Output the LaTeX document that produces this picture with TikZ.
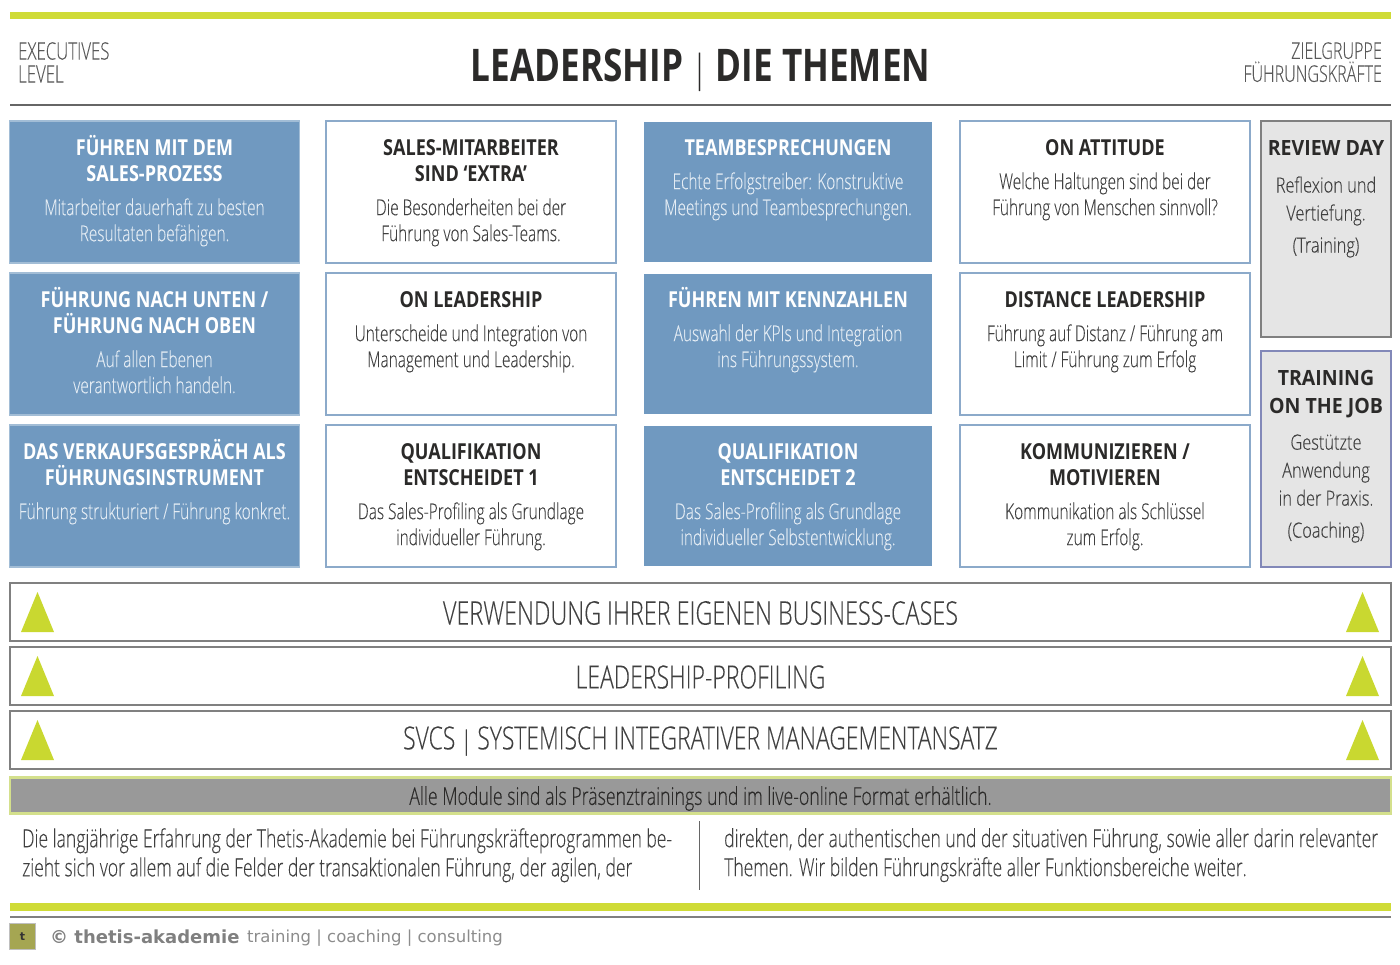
\documentclass[tikz,border=0pt]{standalone}
\usepackage{fontspec}
\newfontfamily\lightfam[FakeStretch=.70,FakeBold=.12]{Open Sans Light}
\newfontfamily\barfam[FakeStretch=.72,FakeBold=.12]{Open Sans Light}
\newfontfamily\boldfam[FakeStretch=.82]{Open Sans Bold}
\newfontfamily\titlefam[FakeStretch=.78]{Open Sans Bold}
\newfontfamily\sidefam[FakeStretch=.78,FakeBold=.12]{Open Sans Light}
\newfontfamily\sideboldfam[FakeStretch=.93]{Open Sans Bold}
\newfontfamily\footfam{DejaVu Sans}
\newfontfamily\footboldfam{DejaVu Sans Bold}
\usetikzlibrary{calc}

\definecolor{limebar}{HTML}{CFDB37}
\definecolor{limetri}{HTML}{C9D830}
\definecolor{limepale}{HTML}{D4E08C}
\definecolor{cardblue}{HTML}{7099C0}
\definecolor{edgeblue}{HTML}{8CAACA}
\definecolor{jobedge}{HTML}{8288B8}
\definecolor{paleblue}{HTML}{E4ECF4}
\definecolor{darkink}{HTML}{2B2A29}
\definecolor{softink}{HTML}{404040}
\definecolor{logoolive}{HTML}{A5A652}

\tikzset{
  bluebox/.style={fill=cardblue,draw=cardblue!65!white,line width=1.2pt,minimum width=290pt,minimum height=142pt,inner sep=0pt},
  plainblue/.style={fill=cardblue,minimum width=288pt,minimum height=140pt,inner sep=0pt},
  whitebox/.style={fill=white,draw=edgeblue,line width=1.2pt,minimum width=290pt,minimum height=142pt,inner sep=0pt},
  sidebox/.style={fill=black!10,line width=1.5pt,minimum width=130pt,minimum height=216pt,inner sep=0pt},
  bluetext/.style={anchor=north,align=center,inner sep=0pt,text=paleblue,font=\lightfam\fontsize{22}{26}\selectfont},
  darktext/.style={anchor=north,align=center,inner sep=0pt,text=softink,font=\lightfam\fontsize{22}{26}\selectfont},
  sidetext/.style={anchor=north,align=center,inner sep=0pt,text=softink,font=\sidefam\fontsize{21}{28}\selectfont},
  barbox/.style={fill=white,draw=black!50,line width=1.5pt,minimum width=1381pt,minimum height=58pt,inner sep=0pt},
  bartext/.style={inner sep=0pt,text=softink,font=\barfam\fontsize{32}{36}\selectfont},
  notetext/.style={anchor=north west,align=left,inner sep=0pt,text=softink,font=\lightfam\fontsize{25}{29}\selectfont},
  cornertext/.style={inner sep=0pt,text=black!65,font=\lightfam\fontsize{24}{23}\selectfont}
}
\def\hdw#1{{\boldfam\color{white}#1}}
\def\hdk#1{{\boldfam\color{darkink}#1}}
\def\cardnode#1#2#3#4#5#6{%
  \node[#4] (#1) at (#2,#3) {};
  \node[#5] (#1-text) at (#2,{#3-60}) {\rule{0pt}{23pt}#6};
}

\begin{document}
\begin{tikzpicture}[x=1pt,y=-1pt]
  \useasboundingbox (0,0) rectangle (1400,964);

  % head
  \fill[limebar] (10,11.5) rectangle (1391,19);
  \draw[black!60,line width=1.5pt] (10,105) -- (1391,105);
  \node[cornertext,anchor=north west,align=left] (level) at (18,42) {EXECUTIVES\\LEVEL};
  \node[cornertext,anchor=north east,align=right,font=\lightfam\fontsize{23}{23}\selectfont] (group) at (1382,42) {ZIELGRUPPE\\FÜHRUNGSKRÄFTE};
  \node[inner sep=0pt,text=darkink,font=\titlefam\fontsize{45}{50}\selectfont] (title) at (700.5,70)
    {LEADERSHIP {\lightfam\fontsize{38}{50}\selectfont|} DIE THEMEN};

  % cards
  \cardnode{prozess}{154.5}{192}{bluebox}{bluetext}{\hdw{FÜHREN MIT DEM}\\\hdw{SALES-PROZESS}\\[8pt]Mitarbeiter dauerhaft zu besten\\Resultaten befähigen.}
  \cardnode{oben}{154.5}{344}{bluebox}{bluetext}{\hdw{FÜHRUNG NACH UNTEN /}\\\hdw{FÜHRUNG NACH OBEN}\\[8pt]Auf allen Ebenen\\verantwortlich handeln.}
  \cardnode{gespraech}{154.5}{496}{bluebox}{bluetext}{\hdw{DAS VERKAUFSGESPRÄCH ALS}\\\hdw{FÜHRUNGSINSTRUMENT}\\[8pt]Führung strukturiert / Führung konkret.}
  \cardnode{extra}{471}{192}{whitebox}{darktext}{\hdk{SALES-MITARBEITER}\\\hdk{SIND ‘EXTRA’}\\[8pt]Die Besonderheiten bei der\\Führung von Sales-Teams.}
  \cardnode{leadership}{471}{344}{whitebox}{darktext}{\hdk{ON LEADERSHIP}\\[8pt]Unterscheide und Integration von\\Management und Leadership.}
  \cardnode{quali}{471}{496}{whitebox}{darktext}{\hdk{QUALIFIKATION}\\\hdk{ENTSCHEIDET 1}\\[8pt]Das Sales-Profiling als Grundlage\\individueller Führung.}
  \cardnode{meetings}{788}{192}{plainblue}{bluetext}{\hdw{TEAMBESPRECHUNGEN}\\[8pt]Echte Erfolgstreiber: Konstruktive\\Meetings und Teambesprechungen.}
  \cardnode{kpi}{788}{344}{plainblue}{bluetext}{\hdw{FÜHREN MIT KENNZAHLEN}\\[8pt]Auswahl der KPIs und Integration\\ins Führungssystem.}
  \cardnode{qualizwei}{788}{496}{plainblue}{bluetext}{\hdw{QUALIFIKATION}\\\hdw{ENTSCHEIDET 2}\\[8pt]Das Sales-Profiling als Grundlage\\individueller Selbstentwicklung.}
  \cardnode{attitude}{1105}{192}{whitebox}{darktext}{\hdk{ON ATTITUDE}\\[8pt]Welche Haltungen sind bei der\\Führung von Menschen sinnvoll?}
  \cardnode{distance}{1105}{344}{whitebox}{darktext}{\hdk{DISTANCE LEADERSHIP}\\[8pt]Führung auf Distanz / Führung am\\Limit / Führung zum Erfolg}
  \cardnode{motiv}{1105}{496}{whitebox}{darktext}{\hdk{KOMMUNIZIEREN /}\\\hdk{MOTIVIEREN}\\[8pt]Kommunikation als Schlüssel\\zum Erfolg.}

  % side cards
  \node[sidebox,draw=black!50] (review) at (1326,229) {};
  \node[sidetext,yshift=-20pt] (review-text) at (review.north)
    {{\sideboldfam\color{darkink}REVIEW DAY}\\[9pt]Reflexion und\\Vertiefung.\\[4pt](Training)};
  \node[sidebox,draw=jobedge] (job) at (1326,459) {};
  \node[sidetext,yshift=-19.5pt] (job-text) at (job.north)
    {{\sideboldfam\color{darkink}TRAINING}\\{\sideboldfam\color{darkink}ON THE JOB}\\[8.5pt]Gestützte\\Anwendung\\in der Praxis.\\[4pt](Coaching)};

  % bars
  \foreach \strip/\cy/\txt in {
    cases/612/{\fontsize{32.5}{36}\selectfont VERWENDUNG IHRER EIGENEN BUSINESS-CASES},
    profiling/676/{LEADERSHIP-PROFILING},
    svcs/740/{\fontsize{31.8}{36}\selectfont SVCS {\fontsize{26}{36}\selectfont|} SYSTEMISCH INTEGRATIVER MANAGEMENTANSATZ}
  }{
    \node[barbox] (\strip) at (700.5,\cy) {};
    \node[bartext,yshift=-1pt] (\strip-text) at (\strip.center) {\txt};
    \fill[limetri] ($(\strip.west)+(11.75,20)$) -- ($(\strip.west)+(28.25,-20)$) -- ($(\strip.west)+(44.75,20)$) -- cycle;
    \fill[limetri] ($(\strip.east)+(-45.75,20)$) -- ($(\strip.east)+(-29.25,-20)$) -- ($(\strip.east)+(-12.75,20)$) -- cycle;
  }

  % note
  \node[fill=black!40,draw=limepale,line width=2.5pt,minimum width=1381pt,minimum height=36pt,inner sep=0pt] (format) at (700.5,795.5) {};
  \node[inner sep=0pt,yshift=-3pt,text=darkink,font=\barfam\fontsize{24.6}{28}\selectfont] (format-text) at (format.center)
    {Alle Module sind als Präsenztrainings und im live-online Format erhältlich.};

  \node[notetext] (noteleft) at (22,828) {Die langjährige Erfahrung der Thetis-Akademie bei Führungskräfteprogrammen be-\\zieht sich vor allem auf die Felder der transaktionalen Führung, der agilen, der};
  \node[notetext] (noteright) at (724,828) {direkten, der authentischen und der situativen Führung, sowie aller darin relevanter\\Themen. Wir bilden Führungskräfte aller Funktionsbereiche weiter.};
  \draw[black!60,line width=1pt] (699.5,821) -- (699.5,890);

  % foot
  \fill[limebar] (10,903) rectangle (1391,910.5);
  \draw[black!50,line width=1.2pt] (10,917) -- (1391,917);
  \node[fill=logoolive,draw=black!25,minimum size=26pt,inner sep=0pt,font=\footboldfam\fontsize{11}{12}\selectfont,text=black!80] (logo) at (22.5,936.5) {t};
  \node[anchor=west,inner sep=0pt,text=black!50,font=\footboldfam\fontsize{18}{22}\selectfont] (brand) at (50,937) {© thetis-akademie};
  \node[anchor=west,inner sep=0pt,text=black!45,font=\footfam\fontsize{16.5}{20}\selectfont] (claim) at (247,938) {training | coaching | consulting};
\end{tikzpicture}
\end{document}
